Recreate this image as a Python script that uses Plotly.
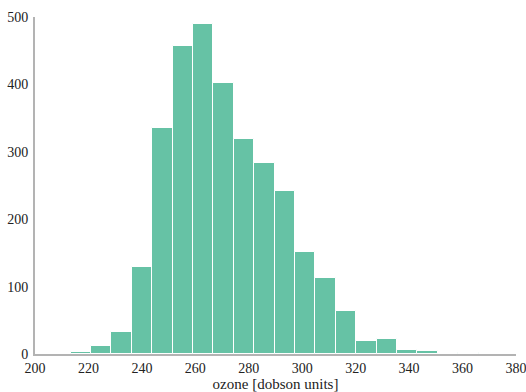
import numpy as np
import plotly.graph_objects as go

# Histogram of total column ozone: 20 equal-width bins
bin_low = 213.3
bin_high = 366.0
counts = [3, 12, 32, 129, 336, 457, 490, 402, 319, 284,
          242, 152, 113, 64, 20, 22, 6, 5, 0, 2]

x_ticks = [200, 220, 240, 260, 280, 300, 320, 340, 360, 380]
y_ticks = [0, 100, 200, 300, 400, 500]

edges = np.linspace(bin_low, bin_high, len(counts) + 1)
centers = (edges[:-1] + edges[1:]) / 2
width = edges[1] - edges[0]

font_family = "Liberation Serif"
axis_grey = "#b3b3b3"

fig = go.Figure(
    go.Bar(
        x=centers,
        y=counts,
        width=width,
        marker=dict(color="#66c2a5", line=dict(color="white", width=1)),
        hoverinfo="x+y",
    )
)

fig.update_layout(
    width=526,
    height=392,
    margin=dict(l=35, r=10, t=17, b=38),
    paper_bgcolor="white",
    plot_bgcolor="white",
    showlegend=False,
    bargap=0,
    font=dict(family=font_family, size=14, color="#222222"),
)

fig.update_xaxes(
    range=[200, 380],
    tickmode="array",
    tickvals=x_ticks,
    ticks="",
    showgrid=False,
    zeroline=False,
    showline=True,
    linecolor=axis_grey,
    linewidth=2,
    automargin=False,
    ticklabeloverflow="allow",
    ticklabelstandoff=0,
    title=dict(text="ozone [dobson units]", standoff=4,
               font=dict(family=font_family, size=15, color="#222222")),
)

fig.update_yaxes(
    range=[0, 500],
    tickmode="array",
    tickvals=y_ticks,
    ticks="",
    showgrid=False,
    zeroline=False,
    showline=True,
    linecolor=axis_grey,
    linewidth=2,
    automargin=False,
    ticklabelstandoff=2,
)

fig.write_html("out.html")
